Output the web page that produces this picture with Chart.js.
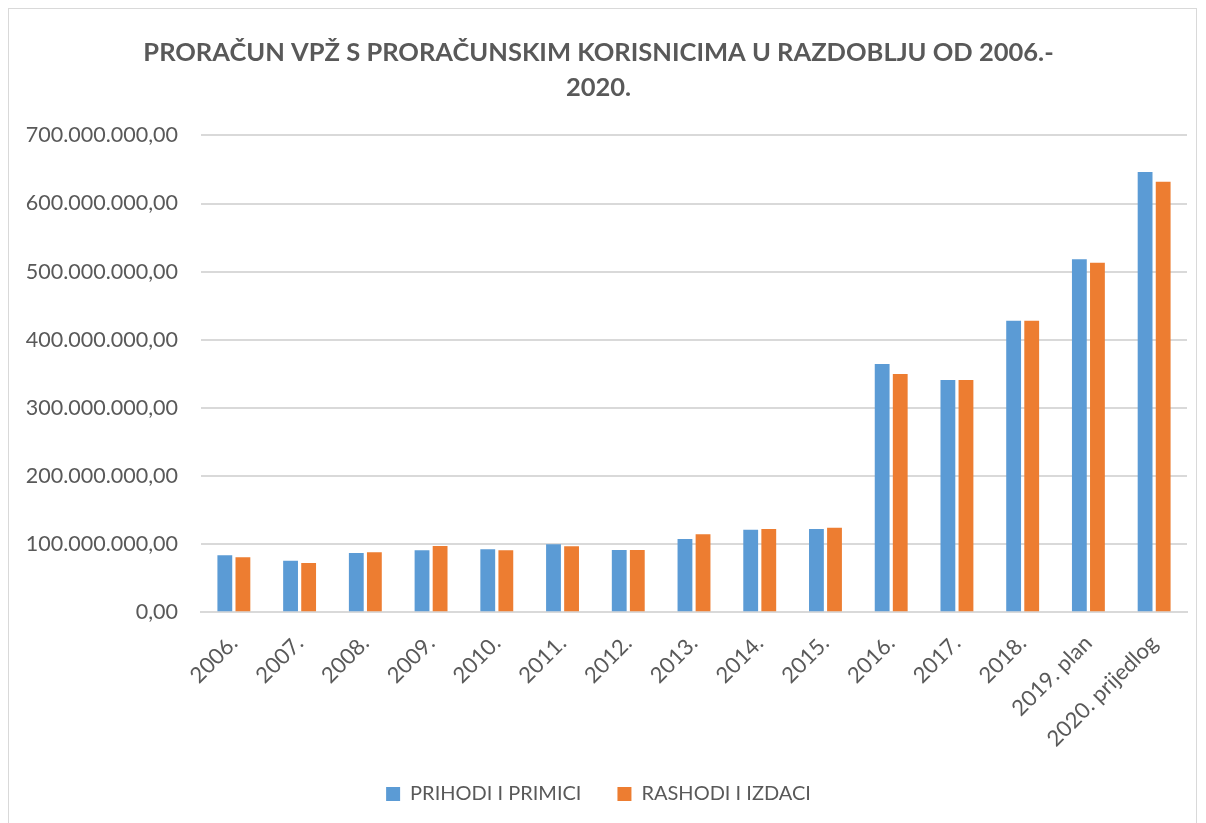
<!DOCTYPE html>
<html>
<head>
<meta charset="utf-8">
<script src="https://cdn.jsdelivr.net/npm/chart.js@4/dist/chart.umd.min.js"></script>
<style>
  html, body { margin: 0; padding: 0; background: #fff; }
  #box {
    position: absolute; left: 8px; top: 8px;
    width: 1189px; height: 830px;
    border: 1px solid #d9d9d9; box-sizing: border-box;
  }
  #wrap { position: absolute; left: 1px; top: 1px; width: 1187px; height: 814px; }
</style>
</head>
<body>
<div id="box"><div id="wrap"><canvas id="chart"></canvas></div></div>
<script>
var years = ['2006.', '2007.', '2008.', '2009.', '2010.', '2011.', '2012.', '2013.',
  '2014.', '2015.', '2016.', '2017.', '2018.', '2019. plan', '2020. prijedlog'];

// PRIHODI I PRIMICI
var prihodi = [83.7e6, 75.7e6, 87.0e6, 91.0e6, 92.5e6, 99.8e6, 91.4e6, 107.6e6,
  121.2e6, 122.2e6, 364.4e6, 340.9e6, 428.0e6, 518.0e6, 646.2e6];

// RASHODI I IZDACI
var rashodi = [80.7e6, 72.3e6, 88.0e6, 97.3e6, 91.0e6, 96.9e6, 91.4e6, 114.5e6,
  122.2e6, 124.2e6, 349.7e6, 340.9e6, 428.0e6, 513.0e6, 631.9e6];

var titleLines = ['PRORAČUN VPŽ S PRORAČUNSKIM KORISNICIMA U RAZDOBLJU OD 2006.-', '2020.'];

var grey = '#595959';
var font = 'Lato, "Open Sans", sans-serif';

function fmt(v) {
  var s = Math.round(v).toString().replace(/\B(?=(\d{3})+(?!\d))/g, '.');
  return s + ',00';
}

var ctx = document.getElementById('chart').getContext('2d');
var chart = new Chart(ctx, {
  type: 'bar',
  data: {
    labels: years,
    datasets: [{
      label: 'PRIHODI I PRIMICI',
      data: prihodi,
      backgroundColor: '#5b9bd5',
      categoryPercentage: 0.55,
      barPercentage: 0.82
    }, {
      label: 'RASHODI I IZDACI',
      data: rashodi,
      backgroundColor: '#ed7d31',
      categoryPercentage: 0.55,
      barPercentage: 0.82
    }]
  },
  options: {
    responsive: true,
    maintainAspectRatio: false,
    animation: false,
    layout: { padding: { left: 0, right: 10, top: 0, bottom: 10 } },
    plugins: {
      title: {
        display: true,
        text: titleLines,
        color: grey,
        font: { family: font, size: 25.5, weight: 'bold', lineHeight: 1.38 },
        padding: { top: 25, bottom: 30 }
      },
      legend: {
        position: 'bottom',
        labels: {
          color: grey,
          font: { family: font, size: 20 },
          boxWidth: 14,
          boxHeight: 14,
          padding: 36
        }
      },
      tooltip: { enabled: false }
    },
    scales: {
      x: {
        grid: { display: false },
        border: { color: '#d9d9d9', width: 2 },
        ticks: {
          color: grey,
          font: { family: font, size: 22 },
          maxRotation: 45,
          minRotation: 45,
          padding: 10
        },
        afterFit: function(scale) { scale.height -= 14; }
      },
      y: {
        min: 0,
        max: 700000000,
        grid: { color: '#d9d9d9', lineWidth: 2, drawTicks: false },
        border: { display: false },
        ticks: {
          stepSize: 100000000,
          color: grey,
          font: { family: font, size: 21.5 },
          padding: 23,
          callback: function(v) { return fmt(v); }
        },
        afterFit: function(scale) { scale.width = 191; }
      }
    }
  }
});
</script>
</body>
</html>
